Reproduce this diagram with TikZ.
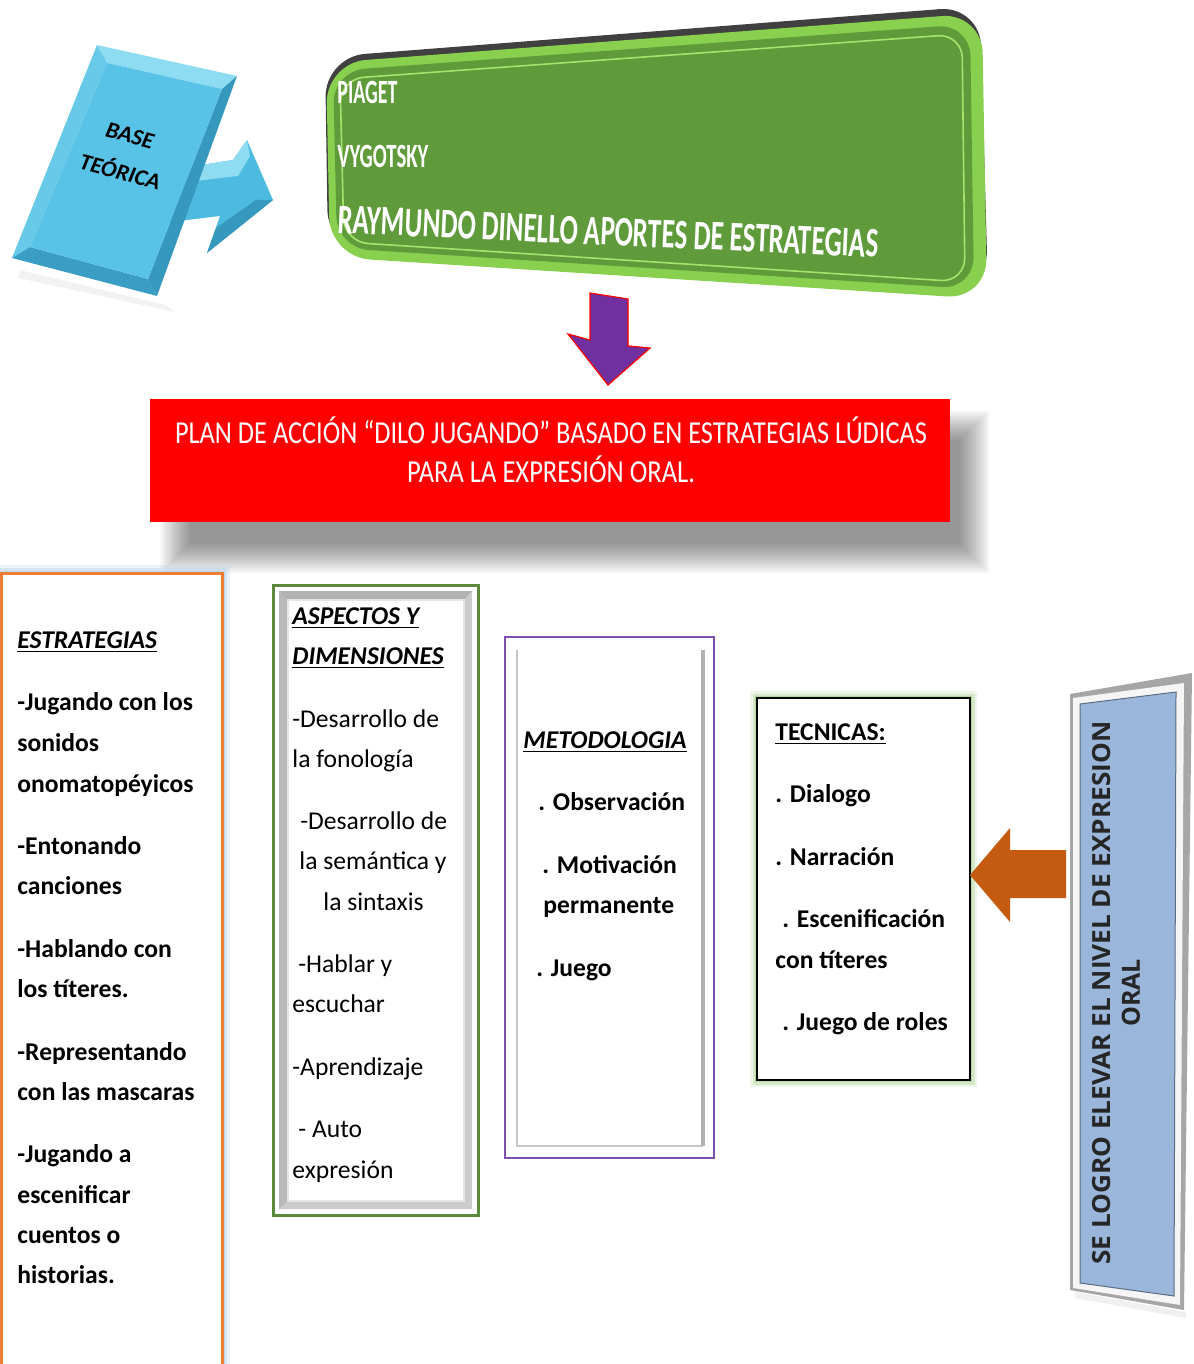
\documentclass[tikz,border=0pt]{standalone}
\usepackage{fontspec}
\usepackage{graphicx}
\setmainfont{Carlito}
\newfontfamily\osans{Open Sans}
\newcommand\fitw[2]{\resizebox{#1}{\height}{#2}}
\definecolor{cyanbody}{HTML}{4DBAE0}
\definecolor{cyanface}{HTML}{58C3E6}
\definecolor{cyanlight}{HTML}{8EDCF2}
\definecolor{cyandark}{HTML}{3798BE}
\definecolor{greenfill}{HTML}{5F9B3B}
\definecolor{greenlime}{HTML}{88D04E}
\definecolor{greenhi}{HTML}{A6E26C}
\definecolor{purpleA}{HTML}{7030A0}
\definecolor{orangeB}{HTML}{ED7D31}
\definecolor{orangeA}{HTML}{C55A11}
\definecolor{glowblue}{HTML}{BDD7EE}
\definecolor{glowgreen}{HTML}{A9D18E}
\definecolor{greenB}{HTML}{5C8A3A}
\definecolor{purpleB}{HTML}{7F4FB0}
\definecolor{steel}{HTML}{9AB6DA}
\begin{document}
\begin{tikzpicture}[x=0.5pt,y=-0.5pt,
  txt/.style={anchor=base west,inner sep=0pt,font=\fontsize{12.8}{15}\selectfont\bfseries},
  txtr/.style={anchor=base west,inner sep=0pt,font=\fontsize{12.8}{15}\selectfont},
  ttl/.style={anchor=base west,inner sep=0pt,font=\fontsize{12.8}{15}\selectfont\bfseries\itshape},
  wtxt/.style={inner sep=0pt,text=white},
  boxnode/.style={inner sep=0pt,outer sep=0pt,fill=white}]
\useasboundingbox (0,0) rectangle (1193,1364);
\fill[white] (0,0) rectangle (1193,1364);

% ---------- BASE TEORICA ----------
\fill[black,opacity=0.05] (20,270) -- (165,305) -- (175,312) -- (18,278) -- cycle;
\fill[cyanbody] (170,170) -- (233,160) -- (247,140) -- (273,200) -- (207,253) -- (220,216) -- (170,222) -- cycle;
\fill[cyanlight] (170,170) -- (233,160) -- (247,140) -- (250,156) -- (238,176) -- (170,184) -- cycle;
\fill[cyandark] (273,200) -- (207,253) -- (216,228) -- (256,200) -- cycle;
\coordinate (b1) at (97,45);  \coordinate (b2) at (237,76);
\coordinate (b3) at (157,296); \coordinate (b4) at (12,258);
\coordinate (c1) at (107,63); \coordinate (c2) at (222,89);
\coordinate (c3) at (148,279); \coordinate (c4) at (30,247);
\fill[cyanlight] (b1) -- (b2) -- (c2) -- (c1) -- cycle;
\fill[cyanface!90!white] (b1) -- (c1) -- (c4) -- (b4) -- cycle;
\fill[cyandark] (b2) -- (b3) -- (c3) -- (c2) -- cycle;
\fill[cyandark!85!cyanbody] (b4) -- (c4) -- (c3) -- (b3) -- cycle;
\fill[cyanface] (c1) -- (c2) -- (c3) -- (c4) -- cycle;
\node[rotate=-15,inner sep=0pt,align=center,font=\fontsize{11.5}{19}\selectfont\bfseries\itshape] (base) at (125,154) {BASE\\TEÓRICA};

% ---------- GREEN BOX ----------
\fill[black!75,rounded corners=20] (325,57) -- (980,6) -- (988,290) -- (328,250) -- cycle;
\fill[greenlime,rounded corners=20] (326,63) -- (982,13) -- (987,299) -- (330,257) -- cycle;
\fill[greenfill,rounded corners=16] (333,71) -- (970,24) -- (974,289) -- (337,248) -- cycle;
\draw[greenhi,line width=0.8pt,rounded corners=12] (340,79) -- (962,34) -- (965,282) -- (344,242) -- cycle;
\node[wtxt,anchor=base west] (piaget) at (337,104) {\fontsize{17}{17}\selectfont\bfseries\fitw{30pt}{PIAGET}};
\node[wtxt,anchor=base west] (vygotsky) at (337,168) {\fontsize{17}{17}\selectfont\bfseries\fitw{45.5pt}{VYGOTSKY}};
\node[wtxt,anchor=base west,rotate=-2.6] (raymundo) at (337,233) {\fontsize{21}{21}\selectfont\bfseries\fitw{270.5pt}{RAYMUNDO DINELLO APORTES DE ESTRATEGIAS}};

% ---------- PURPLE ARROW ----------
\filldraw[fill=purpleA,draw=red,line width=0.6pt] (590,293) -- (628,299) -- (628,346) -- (650,348) -- (608,385) -- (568,334) -- (590,340) -- cycle;

% ---------- RED BOX ----------
\foreach \k in {0,...,19}
  \fill[black,opacity=0.022] (160+1.6*\k,410+1.6*\k) rectangle (990-1.6*\k,574-1.6*\k);
\node[inner sep=0pt,outer sep=0pt,fill=red,minimum width=400pt,minimum height=61.5pt] (plan) at (550,460.5) {};
\node[wtxt,anchor=base] (plan1) at (551,443) {\fontsize{16}{16}\selectfont\fitw{376pt}{PLAN DE ACCIÓN “DILO JUGANDO” BASADO EN ESTRATEGIAS LÚDICAS}};
\node[wtxt,anchor=base] (plan2) at (551,482) {\fontsize{16}{16}\selectfont\fitw{144pt}{PARA LA EXPRESIÓN ORAL.}};

% ---------- ESTRATEGIAS ----------
\draw[glowblue,opacity=0.3,line width=8pt] (1,573) rectangle (222,1390);
\draw[glowblue,opacity=0.45,line width=5pt] (1,573) rectangle (222,1390);
\draw[glowblue,line width=2.5pt] (1,573) rectangle (222,1390);
\node[boxnode,draw=orangeB,line width=1.5pt,minimum width=110.5pt,minimum height=408.5pt] (estr) at (111.5,981.5) {};
\node[ttl] (e0) at (17,648) {\underline{ESTRATEGIAS}};
\node[txt] (e1) at (17,710) {-Jugando con los};
\node[txt] (e2) at (17,751) {sonidos};
\node[txt] (e3) at (17,792) {onomatopéyicos};
\node[txt] (e4) at (17,854) {-Entonando};
\node[txt] (e5) at (17,894) {canciones};
\node[txt] (e6) at (17,957) {-Hablando con};
\node[txt] (e7) at (17,997) {los títeres.};
\node[txt] (e8) at (17,1060) {-Representando};
\node[txt] (e9) at (17,1100) {con las mascaras};
\node[txt] (e10) at (17,1162) {-Jugando a};
\node[txt] (e11) at (17,1203) {escenificar};
\node[txt] (e12) at (17,1243) {cuentos o};
\node[txt] (e13) at (17,1283) {historias.};

% ---------- ASPECTOS ----------
\node[boxnode,draw=greenB,line width=1.5pt,minimum width=102.5pt,minimum height=315pt] (asp) at (375.5,900) {};
\fill[gray!40,even odd rule] (279,591) rectangle (472,1209) (288,600) rectangle (464,1201);
\fill[gray!60] (279,591) -- (472,591) -- (464,600) -- (288,600) -- cycle;
\fill[gray!55] (279,591) -- (288,600) -- (288,1201) -- (279,1209) -- cycle;
\draw[gray!20,line width=0.6pt] (288,600) rectangle (464,1201);
\node[ttl] (a0) at (292,624) {\underline{ASPECTOS Y}};
\node[ttl] (a1) at (292,664) {\underline{DIMENSIONES}};
\node[txtr] (a2) at (292,727) {-Desarrollo de};
\node[txtr] (a3) at (292,767) {la fonología};
\node[txtr] (a4) at (300,829) {-Desarrollo de};
\node[txtr] (a5) at (299,869) {la semántica y};
\node[txtr] (a6) at (323,910) {la sintaxis};
\node[txtr] (a7) at (298,972) {-Hablar y};
\node[txtr] (a8) at (292,1012) {escuchar};
\node[txtr] (a9) at (292,1075) {-Aprendizaje};
\node[txtr] (a10) at (298,1137) {- Auto};
\node[txtr] (a11) at (292,1178) {expresión};

% ---------- METODOLOGIA ----------
\node[boxnode,draw=purpleB,line width=1.2pt,minimum width=104.5pt,minimum height=260.5pt] (met) at (609.5,897.5) {};
\draw[gray!45,line width=1.2pt] (517,650) -- (517,1146) -- (703,1146);
\draw[gray!60,line width=1.6pt] (703,650) -- (703,1146);
\node[ttl] (m0) at (523,748) {\underline{METODOLOGIA}};
\node[txt] (m1) at (538,810) {. Observación};
\node[txt] (m2) at (542,873) {. Motivación};
\node[txt] (m3) at (543,913) {permanente};
\node[txt] (m4) at (536,976) {. Juego};

% ---------- TECNICAS ----------
\draw[glowgreen,opacity=0.2,line width=7pt] (757,698) rectangle (970,1080);
\draw[glowgreen,opacity=0.35,line width=4.5pt] (757,698) rectangle (970,1080);
\draw[glowgreen,opacity=0.7,line width=2pt] (757,698) rectangle (970,1080);
\node[boxnode,draw=black,line width=0.7pt,minimum width=106.5pt,minimum height=191pt] (tec) at (863.5,889) {};
\node[txt] (t0) at (775,740) {\underline{TECNICAS:}};
\node[txt] (t1) at (775,802) {. Dialogo};
\node[txt] (t2) at (775,865) {. Narración};
\node[txt] (t3) at (782,927) {. Escenificación};
\node[txt] (t4) at (775,968) {con títeres};
\node[txt] (t5) at (782,1030) {. Juego de roles};

% ---------- ORANGE ARROW ----------
\fill[orangeA] (970,875) -- (1010,828) -- (1010,850) -- (1066,850) -- (1066,898) -- (1010,898) -- (1010,922) -- cycle;

% ---------- RIGHT BOX ----------
\fill[black,opacity=0.06] (1075,1292) -- (1186,1312) -- (1186,1318) -- (1075,1298) -- cycle;
\fill[gray!70] (1070,694) -- (1192,673) -- (1184,1310) -- (1070,1290) -- cycle;
\fill[gray!8] (1073,698) -- (1184,683) -- (1180,1305) -- (1073,1288) -- cycle;
\filldraw[fill=steel,draw=steel!60!black,line width=0.5pt] (1080,704) -- (1176,692) -- (1174,1296) -- (1080,1283) -- cycle;
\node[rotate=90,inner sep=0pt,font=\osans\fontsize{12.5}{13}\selectfont\bfseries,text=black!85] (logro1) at (1102,993) {\fitw{271.5pt}{SE LOGRO ELEVAR EL NIVEL DE EXPRESION}};
\node[rotate=90,inner sep=0pt,font=\osans\fontsize{12.5}{13}\selectfont\bfseries,text=black!85] (logro2) at (1131,993) {ORAL};
\end{tikzpicture}
\end{document}
